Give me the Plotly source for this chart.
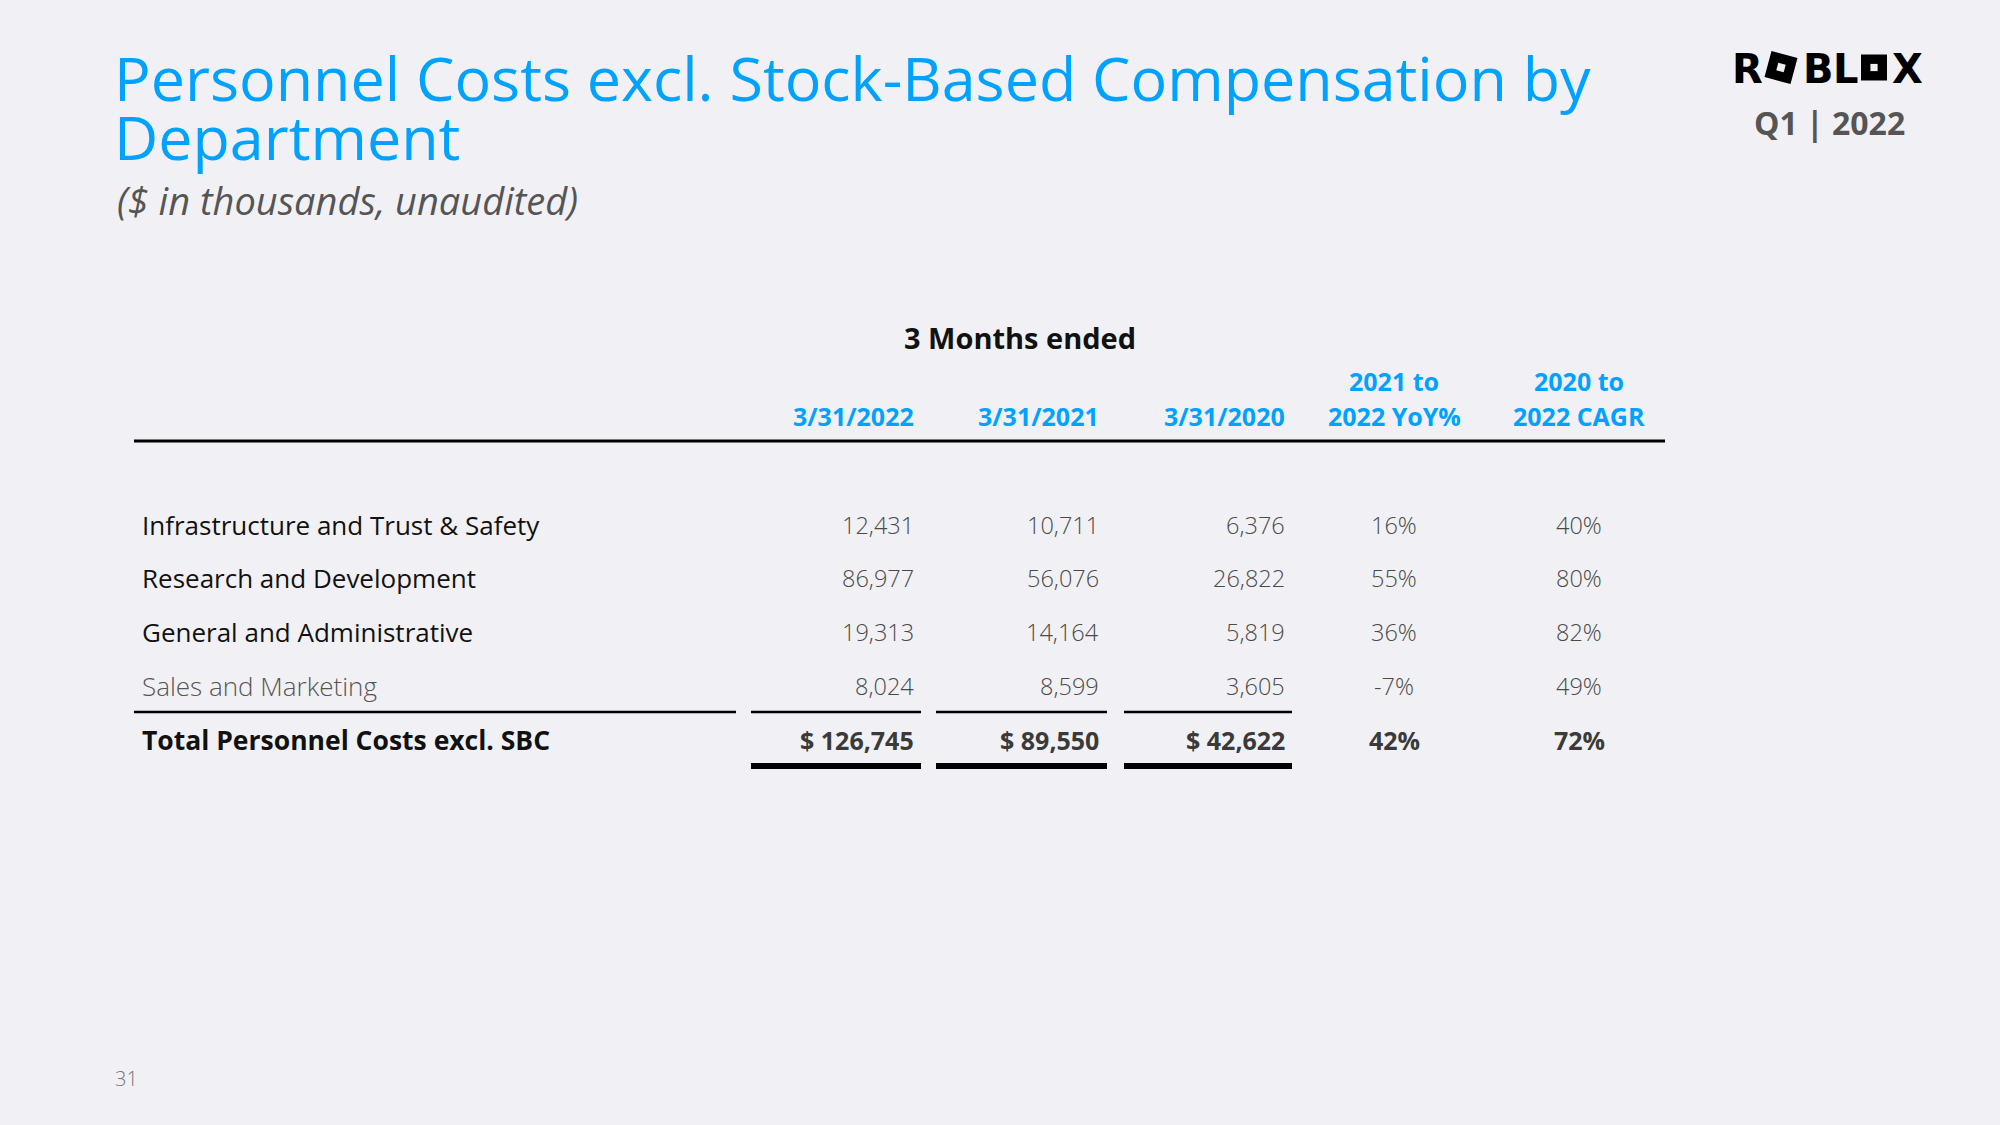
import math
import plotly.graph_objects as go

# ---------------- data ----------------
categories = ["Infrastructure and Trust & Safety", "Research and Development",
              "General and Administrative", "Sales and Marketing"]
q1_2022 = [12431, 86977, 19313, 8024]
q1_2021 = [10711, 56076, 14164, 8599]
q1_2020 = [6376, 26822, 5819, 3605]
yoy_pct = [16, 55, 36, -7]
cagr_pct = [40, 80, 82, 49]
total_label = "Total Personnel Costs excl. SBC"
totals = [126745, 89550, 42622]
total_yoy = 42
total_cagr = 72
date_headers = ["3/31/2022", "3/31/2021", "3/31/2020"]
pct_headers = [["2021 to", "2022 YoY%"], ["2020 to", "2022 CAGR"]]
group_header = "3 Months ended"
title_lines = ["Personnel Costs excl. Stock-Based Compensation by", "Department"]
subtitle = "($ in thousands, unaudited)"
period_label = "Q1 | 2022"
page_no = "31"

# ---------------- style ----------------
BG = "#F1F1F5"
BLUE = "#00A2FF"
DARK = "#111111"
GREY = "#555555"
NUMGREY = "#4A4A4A"
FONT = "Open Sans"

W, H = 2000, 1125
fig = go.Figure()
ann = []
shapes = []

def txt(x, y, s, size, color, xanchor="left", weight=400, style="normal", yanchor="middle", family=FONT):
    ann.append(dict(x=x, y=y, xref="x", yref="y", text=s, showarrow=False,
                    xanchor=xanchor, yanchor=yanchor,
                    font=dict(family=family, size=size, color=color, weight=weight, style=style)))

def square(cx, cy, half, ang, color):
    pts = []
    for k in range(4):
        a = math.radians(ang + 45 + 90 * k)
        pts.append((cx + half * math.sqrt(2) * math.cos(a), cy + half * math.sqrt(2) * math.sin(a)))
    path = "M " + " L ".join(f"{px:.1f},{py:.1f}" for px, py in pts) + " Z"
    shapes.append(dict(type="path", path=path, xref="x", yref="y", fillcolor=color, line=dict(width=0)))

# title
txt(112, 77, title_lines[0], 61, BLUE)
txt(112, 136, title_lines[1], 61, BLUE)
txt(115, 200, subtitle, 38, GREY, style="italic")

# logo: letters + squares
LY = 67.5
for ch, cx in [("R", 1747), ("B", 1818), ("L", 1846), ("X", 1907)]:
    txt(cx, LY + 1.5, ch, 40, "#000000", xanchor="center", weight=900, family="DejaVu Sans")
square(1781, LY, 13.5, 15, "#000000")
square(1781, LY, 3.8, 15, BG)
square(1874, LY, 13.0, 0, "#000000")
square(1874, LY, 3.6, 0, BG)

txt(1829, 122, period_label, 32, GREY, xanchor="center", weight=700)

# table geometry
label_x = 140
num_right = [916, 1101, 1287]
pct_center = [1394, 1579]
row_y = [525, 578, 632, 686]
total_y = 740
FS_LAB = 26
FS_NUM = 23.5

txt(1020, 337, group_header, 29, DARK, xanchor="center", weight=700)
for i, h in enumerate(date_headers):
    txt(num_right[i], 416, h, 25, BLUE, xanchor="right", weight=700)
for i, (a, b) in enumerate(pct_headers):
    txt(pct_center[i], 381, a, 25, BLUE, xanchor="center", weight=700)
    txt(pct_center[i], 416, b, 25, BLUE, xanchor="center", weight=700)

shapes.append(dict(type="line", x0=134, x1=1665, y0=441, y1=441, xref="x", yref="y",
                   line=dict(color="#000000", width=3)))

cols = [q1_2022, q1_2021, q1_2020]
for r, cat in enumerate(categories):
    y = row_y[r]
    last = r == len(categories) - 1
    txt(label_x, y, cat, FS_LAB, GREY if last else DARK, weight=300 if last else 400)
    for c in range(3):
        txt(num_right[c], y, f"{cols[c][r]:,}", FS_NUM, NUMGREY, xanchor="right", weight=300)
    txt(pct_center[0], y, f"{yoy_pct[r]}%", FS_NUM, NUMGREY, xanchor="center", weight=300)
    txt(pct_center[1], y, f"{cagr_pct[r]}%", FS_NUM, NUMGREY, xanchor="center", weight=300)

# total row
txt(label_x, total_y, total_label, 26.5, DARK, weight=700)
for c in range(3):
    txt(num_right[c], total_y, f"$ {totals[c]:,}", 25, "#3A3A3A", xanchor="right", weight=700)
txt(pct_center[0], total_y, f"{total_yoy}%", 25, "#3A3A3A", xanchor="center", weight=700)
txt(pct_center[1], total_y, f"{total_cagr}%", 25, "#3A3A3A", xanchor="center", weight=700)

# rules
seg_label = (134, 736)
segs = [(751, 921), (936, 1107), (1124, 1292)]
for x0, x1 in [seg_label] + segs:
    shapes.append(dict(type="line", x0=x0, x1=x1, y0=712, y1=712, xref="x", yref="y",
                       line=dict(color="#000000", width=2.5)))
for x0, x1 in segs:
    shapes.append(dict(type="line", x0=x0, x1=x1, y0=766, y1=766, xref="x", yref="y",
                       line=dict(color="#000000", width=6)))

txt(113, 1078, page_no, 20, "#777777", weight=300)

fig.update_layout(
    width=W, height=H, margin=dict(l=0, r=0, t=0, b=0),
    paper_bgcolor=BG, plot_bgcolor=BG,
    xaxis=dict(range=[0, W], visible=False, fixedrange=True),
    yaxis=dict(range=[H, 0], visible=False, fixedrange=True),
    annotations=ann, shapes=shapes, showlegend=False,
)
fig.write_html("out.html", include_plotlyjs=True, config={"displayModeBar": False},
               post_script="document.body.style.margin='0';document.body.style.overflow='hidden';")
